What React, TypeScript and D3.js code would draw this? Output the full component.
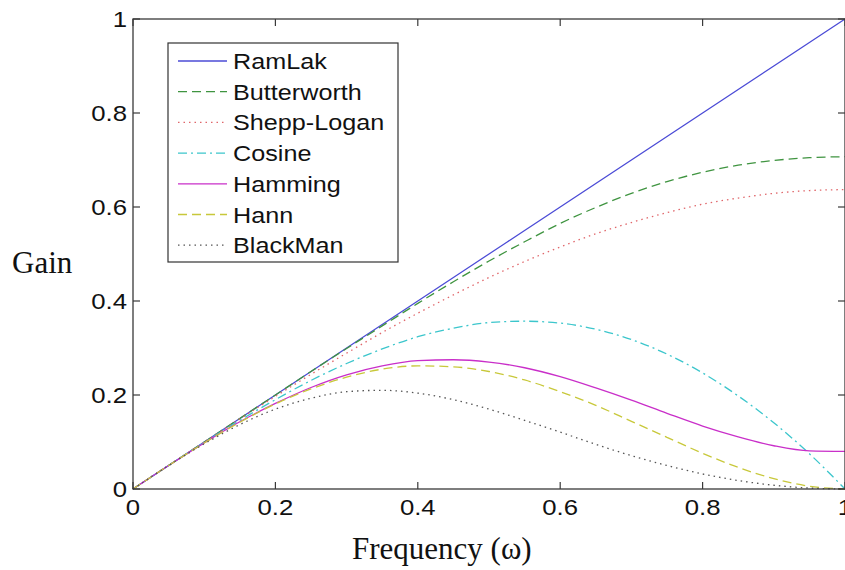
import React from 'react'
import * as d3 from 'd3'

// frequency samples (normalised ω) and the gain
const freq = [0, 0.05, 0.1, 0.15, 0.2, 0.25, 0.3, 0.35, 0.4, 0.45, 0.5, 0.55, 0.6, 0.65, 0.7, 0.75, 0.8, 0.85, 0.9, 0.95, 1]
const ramLak = [0, 0.05, 0.1, 0.15, 0.2, 0.25, 0.3, 0.35, 0.4, 0.45, 0.5, 0.55, 0.6, 0.65, 0.7, 0.75, 0.8, 0.85, 0.9, 0.95, 1]
const butterworth = [0, 0.05, 0.1, 0.15, 0.2, 0.25, 0.299, 0.347, 0.395, 0.441, 0.485, 0.526, 0.565, 0.599, 0.629, 0.654, 0.674, 0.689, 0.699, 0.705, 0.707]
const sheppLogan = [0, 0.05, 0.1, 0.149, 0.197, 0.244, 0.289, 0.333, 0.374, 0.413, 0.45, 0.484, 0.515, 0.543, 0.567, 0.588, 0.606, 0.619, 0.629, 0.635, 0.637]
const cosine = [0, 0.05, 0.099, 0.146, 0.19, 0.231, 0.267, 0.298, 0.324, 0.342, 0.354, 0.357, 0.353, 0.34, 0.318, 0.287, 0.247, 0.198, 0.141, 0.075, 0]
const hamming = [0, 0.05, 0.098, 0.143, 0.182, 0.216, 0.243, 0.262, 0.273, 0.275, 0.27, 0.258, 0.239, 0.215, 0.189, 0.161, 0.134, 0.111, 0.092, 0.081, 0.08]
const hann = [0, 0.05, 0.098, 0.142, 0.181, 0.213, 0.238, 0.255, 0.262, 0.26, 0.25, 0.232, 0.207, 0.178, 0.144, 0.11, 0.076, 0.046, 0.022, 0.006, 0]
const blackman = [0, 0.05, 0.096, 0.137, 0.17, 0.193, 0.207, 0.21, 0.204, 0.19, 0.17, 0.146, 0.121, 0.095, 0.071, 0.05, 0.032, 0.018, 0.008, 0.002, 0]

const xTicks = [0, 0.2, 0.4, 0.6, 0.8, 1]
const yTicks = [0, 0.2, 0.4, 0.6, 0.8, 1]

const series = [
  { name: 'RamLak', values: ramLak, color: '#4b4bd6', dash: null },
  { name: 'Butterworth', values: butterworth, color: '#3f9440', dash: '9,5' },
  { name: 'Shepp-Logan', values: sheppLogan, color: '#e0666a', dash: '1.5,4' },
  { name: 'Cosine', values: cosine, color: '#3cc6cc', dash: '9,4,2,4' },
  { name: 'Hamming', values: hamming, color: '#c92fc9', dash: null },
  { name: 'Hann', values: hann, color: '#c8c83a', dash: '9,5' },
  { name: 'BlackMan', values: blackman, color: '#555555', dash: '1.5,4' },
]

const width = 845
const height = 570
const plot = { left: 133, right: 845, top: 19, bottom: 489 }
const helv = 'Liberation Sans, Arial, Helvetica, sans-serif'
const serif = 'Liberation Serif, Times New Roman, serif'
const sx = 1.12 // the source image is a bit stretched sideways

const App = () => {
  const x = d3.scaleLinear().domain([0, 1]).range([plot.left, plot.right])
  const y = d3.scaleLinear().domain([0, 1]).range([plot.bottom, plot.top])
  const line = d3.line<number>()
    .x((d, i) => x(freq[i]))
    .y(d => y(d))
    .curve(d3.curveMonotoneX)

  const tickLen = 7
  const legend = { x: 168, y: 43, w: 230, h: 219, row0: 61, step: 30.7 }

  return (
    <svg width={width} height={height} style={{ position: 'absolute', left: 0, top: 0, background: '#fff' }}>
      <rect width={width} height={height} fill="#fff" />

      {series.map(s => (
        <path key={s.name} d={line(s.values) || ''} fill="none" stroke={s.color}
          strokeWidth={1.3} strokeDasharray={s.dash || undefined} />
      ))}

      {/* box */}
      <rect x={plot.left} y={plot.top} width={plot.right - plot.left} height={plot.bottom - plot.top}
        fill="none" stroke="#3a3a3a" strokeWidth={1.3} />

      {xTicks.map(t => (
        <g key={'x' + t}>
          <line x1={x(t)} x2={x(t)} y1={plot.bottom} y2={plot.bottom - tickLen} stroke="#3a3a3a" strokeWidth={1.2} />
          <line x1={x(t)} x2={x(t)} y1={plot.top} y2={plot.top + tickLen} stroke="#3a3a3a" strokeWidth={1.2} />
          <text transform={`translate(${x(t)},515) scale(${sx},1)`} textAnchor="middle"
            fontFamily={helv} fontSize={23} fill="#111">{t}</text>
        </g>
      ))}

      {yTicks.map(t => (
        <g key={'y' + t}>
          <line x1={plot.left} x2={plot.left + tickLen} y1={y(t)} y2={y(t)} stroke="#3a3a3a" strokeWidth={1.2} />
          <line x1={plot.right} x2={plot.right - tickLen} y1={y(t)} y2={y(t)} stroke="#3a3a3a" strokeWidth={1.2} />
          <text transform={`translate(127,${y(t) + 8.3}) scale(${sx},1)`} textAnchor="end"
            fontFamily={helv} fontSize={23} fill="#111">{t}</text>
        </g>
      ))}

      {/* legend */}
      <rect x={legend.x} y={legend.y} width={legend.w} height={legend.h} fill="#fff" stroke="#333" strokeWidth={1.2} />
      {series.map((s, i) => {
        const cy = legend.row0 + i * legend.step
        return (
          <g key={'l' + s.name}>
            <line x1={178} x2={227} y1={cy} y2={cy} stroke={s.color} strokeWidth={1.3}
              strokeDasharray={s.dash || undefined} />
            <text transform={`translate(233,${cy + 8}) scale(${sx},1)`} fontFamily={helv}
              fontSize={22.5} fill="#111">{s.name}</text>
          </g>
        )
      })}

      <text x={12} y={273} fontFamily={serif} fontSize={31} fill="#111">Gain</text>
      <text x={352} y={559} fontFamily={serif} fontSize={31} fill="#111">Frequency (ω)</text>
    </svg>
  )
}

export default App
